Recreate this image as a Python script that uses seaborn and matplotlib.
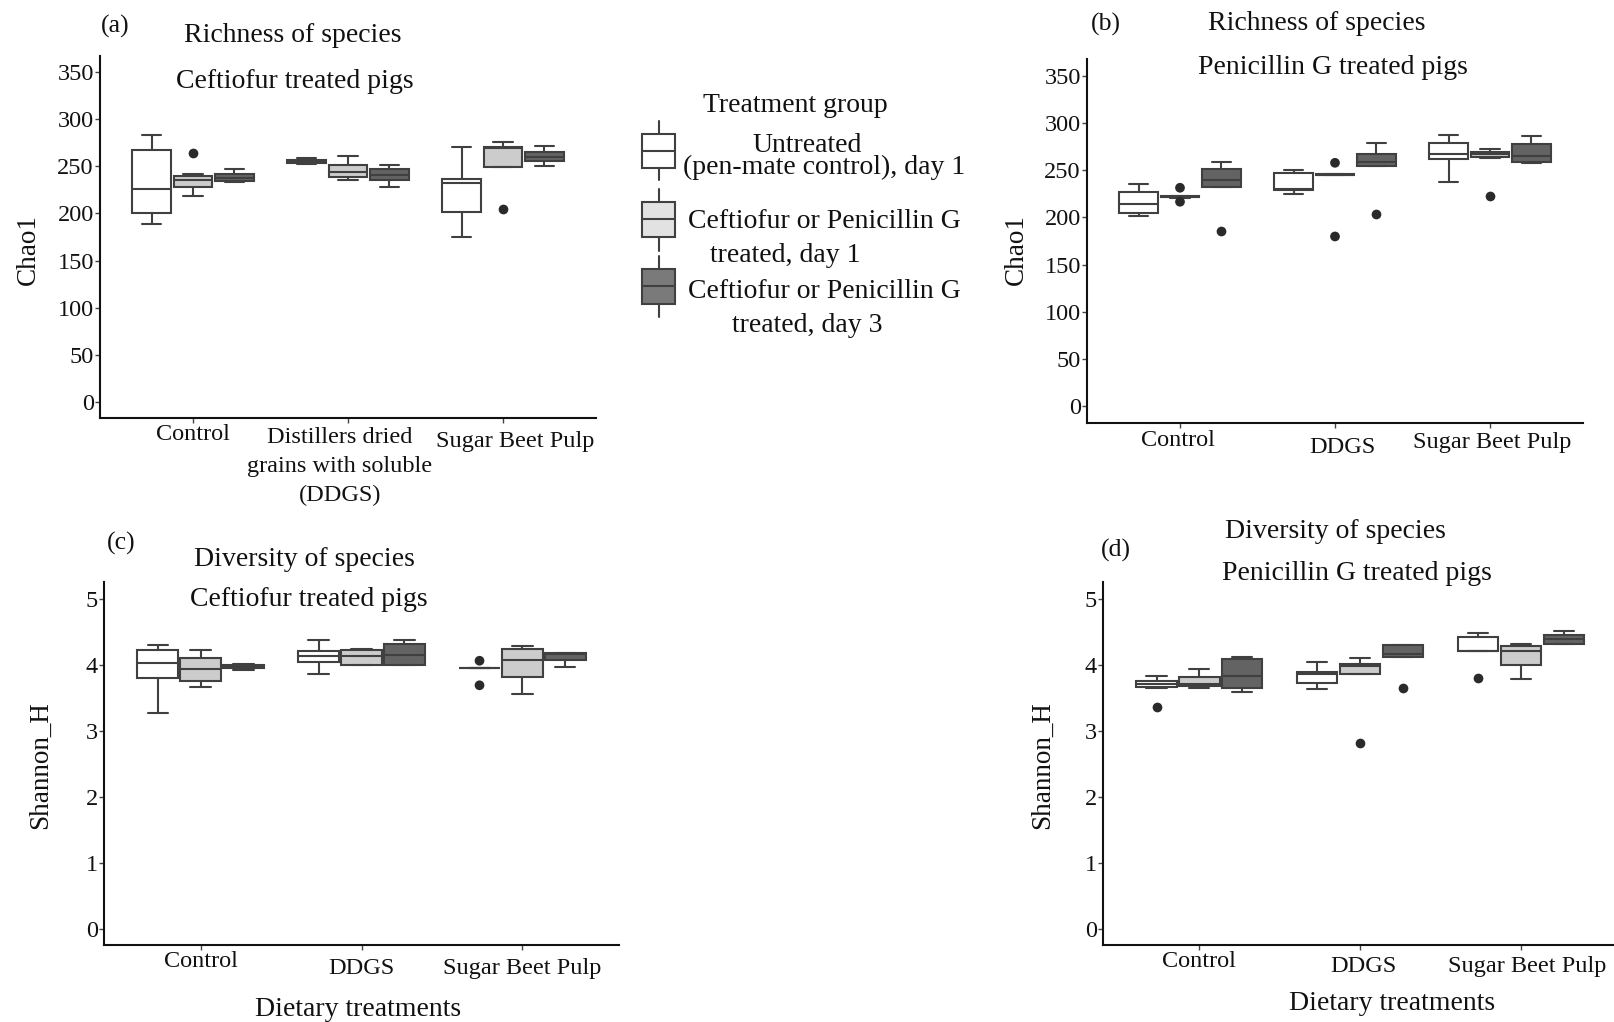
import numpy as np
import pandas as pd
import matplotlib
matplotlib.use("Agg")
import matplotlib.pyplot as plt
from matplotlib.patches import Rectangle
from matplotlib.lines import Line2D
from matplotlib.transforms import ScaledTranslation
import seaborn as sns

# ---------------------------------------------------------------- data
diets = ["Control", "DDGS", "Sugar Beet Pulp"]
groups = ["Untreated (pen-mate control), day 1",
          "Ceftiofur or Penicillin G treated, day 1",
          "Ceftiofur or Penicillin G treated, day 3"]

# five-number summaries per diet: [min, Q1, median, Q3, max]
ceft_chao1_untreated = [[189, 200, 226, 267.6, 283], [253, 253.5, 255, 257, 258.7], [175, 201.8, 232.9, 236.5, 270.4]]
ceft_chao1_day1 = [[218.5, 228.3, 235.4, 240.4, 242], [235.8, 238.9, 243.6, 251.3, 261.2], [249.2, 249.2, 269.3, 270.7, 276]]
ceft_chao1_day3 = [[233.6, 234.7, 238.2, 241.8, 247.8], [228.7, 235.1, 240.7, 246.8, 251.3], [250.3, 255.6, 260.1, 265.8, 271.8]]
ceft_chao1_out_diet = ["Control", "Sugar Beet Pulp"]
ceft_chao1_out_group = [1, 1]
ceft_chao1_out_value = [264.8, 204.7]

pen_chao1_untreated = [[201, 204.5, 214, 226.7, 235.2], [224.6, 229.1, 230.5, 247, 250], [237.9, 261.9, 267.2, 278.8, 287.6]]
pen_chao1_day1 = [[221, 221.3, 222, 222.7, 223], [244.5, 244.8, 245.3, 245.8, 246], [263, 264, 266.8, 269, 272.4]]
pen_chao1_day3 = [[232, 232, 239, 251, 258.4], [254.5, 254.5, 258.4, 267.5, 279.1], [257.3, 258.7, 265.1, 277.7, 286.5]]
pen_chao1_out_diet = ["Control", "Control", "Control", "DDGS", "DDGS", "DDGS", "Sugar Beet Pulp"]
pen_chao1_out_group = [1, 1, 2, 1, 1, 2, 1]
pen_chao1_out_value = [231.3, 216.5, 185.8, 257.7, 179.8, 204, 223]

ceft_shannon_untreated = [[3.265, 3.792, 4.021, 4.225, 4.297], [3.853, 4.037, 4.123, 4.205, 4.378], [3.94, 3.94, 3.945, 3.95, 3.95]]
ceft_shannon_day1 = [[3.654, 3.746, 3.934, 4.092, 4.214], [3.985, 4.0, 4.123, 4.225, 4.24], [3.547, 3.807, 4.061, 4.235, 4.282]]
ceft_shannon_day3 = [[3.919, 3.95, 3.98, 4.0, 4.015], [3.985, 4.0, 4.149, 4.317, 4.378], [3.96, 4.061, 4.165, 4.18, 4.18]]
ceft_shannon_out_diet = ["Sugar Beet Pulp", "Sugar Beet Pulp"]
ceft_shannon_out_group = [0, 0]
ceft_shannon_out_value = [4.057, 3.685]

pen_shannon_untreated = [[3.65, 3.657, 3.707, 3.753, 3.823], [3.636, 3.717, 3.85, 3.884, 4.035], [4.202, 4.202, 4.212, 4.414, 4.47]]
pen_shannon_day1 = [[3.646, 3.672, 3.707, 3.813, 3.934], [3.854, 3.854, 3.97, 4.005, 4.096], [3.783, 4.0, 4.197, 4.278, 4.313]]
pen_shannon_day3 = [[3.581, 3.641, 3.828, 4.076, 4.116], [4.121, 4.121, 4.16, 4.288, 4.298], [4.313, 4.313, 4.389, 4.45, 4.505]]
pen_shannon_out_diet = ["Control", "DDGS", "DDGS", "Sugar Beet Pulp"]
pen_shannon_out_group = [0, 1, 2, 0]
pen_shannon_out_value = [3.359, 2.813, 3.646, 3.788]

chao_ticks = [0, 50, 100, 150, 200, 250, 300, 350]
shannon_ticks = [0, 1, 2, 3, 4, 5]
ddgs_long_label = "Distillers dried\ngrains with soluble\n(DDGS)"

# ---------------------------------------------------------------- style
sns.set_style("ticks")
plt.rcParams["font.family"] = ["Liberation Serif", "DejaVu Serif"]
plt.rcParams["text.color"] = "#111111"

box_fills = ["#FFFFFF", "#CCCCCC", "#636363"]
key_fills = ["#FFFFFF", "#E2E2E2", "#7A7A7A"]
edge_col = "#404040"
W, H = 1614, 1022

fig = plt.figure(figsize=(W / 100, H / 100), dpi=100)


def px_axes(left, top, right, bottom):
    return fig.add_axes([left / W, 1 - bottom / H, (right - left) / W, (bottom - top) / H])


def long_frame(untreated, day1, day3):
    rows = []
    for g, summaries in zip(groups, [untreated, day1, day3]):
        for d, vals in zip(diets, summaries):
            for v in vals:
                rows.append({"diet": d, "group": g, "value": v})
    return pd.DataFrame(rows)


def outlier_frame(out_diet, out_group, out_value):
    return pd.DataFrame({"diet": out_diet,
                         "group": [groups[i] for i in out_group],
                         "value": out_value})


def panel(ax, boxes, outliers, yticks, ylim, xlim, xlabels, label_shift):
    sns.boxplot(data=boxes, x="diet", y="value", hue="group", order=diets,
                hue_order=groups, palette=dict(zip(groups, box_fills)),
                width=0.8, gap=0.06, whis=np.inf, showfliers=False,
                linewidth=1.5, linecolor=edge_col, saturation=1, dodge=True,
                legend=False, ax=ax)
    sns.stripplot(data=outliers, x="diet", y="value", hue="group", order=diets,
                  hue_order=groups, palette=dict(zip(groups, ["#2A2A2A"] * 3)),
                  dodge=True, jitter=False, size=7, linewidth=0, legend=False,
                  ax=ax, zorder=5)
    ax.set_ylim(*ylim)
    ax.set_xlim(*xlim)
    ax.set_yticks(yticks)
    ax.set_yticklabels([str(t) for t in yticks])
    ax.set_xticks(range(len(diets)))
    ax.set_xticklabels(xlabels, linespacing=1.5)
    ax.set_xlabel("")
    ax.set_ylabel("")
    for s in ["top", "right"]:
        ax.spines[s].set_visible(False)
    for s in ["left", "bottom"]:
        ax.spines[s].set_linewidth(1.5)
        ax.spines[s].set_color("#111111")
    ax.tick_params(axis="both", length=3.5, width=1, color="#444444",
                   labelsize=17.5, pad=1, labelcolor="#111111")
    # small per-label nudges of the category names (pixels: right, down)
    for lab, (dx, dy) in zip(ax.get_xticklabels(), label_shift):
        lab.set_transform(lab.get_transform()
                          + ScaledTranslation(dx / 100, -dy / 100, fig.dpi_scale_trans))


ax_a = px_axes(100, 56, 596, 418)
panel(ax_a,
      long_frame(ceft_chao1_untreated, ceft_chao1_day1, ceft_chao1_day3),
      outlier_frame(ceft_chao1_out_diet, ceft_chao1_out_group, ceft_chao1_out_value),
      chao_ticks, (-17.5, 367.5), (-0.6, 2.6),
      ["Control", ddgs_long_label, "Sugar Beet Pulp"],
      [(0, 0), (-8, 3), (12, 7)])

ax_b = px_axes(1087, 59, 1583, 423)
panel(ax_b,
      long_frame(pen_chao1_untreated, pen_chao1_day1, pen_chao1_day3),
      outlier_frame(pen_chao1_out_diet, pen_chao1_out_group, pen_chao1_out_value),
      chao_ticks, (-17.5, 367.5), (-0.6, 2.6), diets,
      [(-2, 1), (7, 8), (2, 3)])

ax_c = px_axes(104, 582, 619, 945)
panel(ax_c,
      long_frame(ceft_shannon_untreated, ceft_shannon_day1, ceft_shannon_day3),
      outlier_frame(ceft_shannon_out_diet, ceft_shannon_out_group, ceft_shannon_out_value),
      shannon_ticks, (-0.25, 5.25), (-0.6, 2.6), diets,
      [(0, 0), (0, 7), (0, 7)])

ax_d = px_axes(1103, 582, 1614, 945)
panel(ax_d,
      long_frame(pen_shannon_untreated, pen_shannon_day1, pen_shannon_day3),
      outlier_frame(pen_shannon_out_diet, pen_shannon_out_group, pen_shannon_out_value),
      shannon_ticks, (-0.25, 5.25), (-0.6, 2.58), diets,
      [(0, 0), (3, 5), (6, 5)])

# ---------------------------------------------------------------- annotations
ov = fig.add_axes([0, 0, 1, 1], zorder=10)
ov.set_xlim(0, W)
ov.set_ylim(H, 0)
ov.axis("off")


def label(x, y, s, size=20, **kw):
    ov.text(x, y + 3, s, fontsize=size, ha=kw.pop("ha", "center"),
            va=kw.pop("va", "center"), **kw)


label(115, 23, "(a)", 18.5)
label(293, 32, "Richness of species")
label(295, 79, "Ceftiofur treated pigs")
label(1106, 21, "(b)", 18.5)
label(1317, 21, "Richness of species")
label(1333, 65, "Penicillin G treated pigs")
label(121, 540, "(c)", 18.5)
label(304, 557, "Diversity of species")
label(309, 596, "Ceftiofur treated pigs")
label(1116, 547, "(d)", 18.5)
label(1335, 529, "Diversity of species")
label(1357, 570, "Penicillin G treated pigs")

label(28, 247, "Chao1", 19.5, rotation=90)
label(1016, 247, "Chao1", 19.5, rotation=90)
label(41, 762, "Shannon_H", 19.5, rotation=90)
label(1042, 762, "Shannon_H", 19.5, rotation=90)
label(358, 1006, "Dietary treatments")
label(1392, 1000, "Dietary treatments")

# legend
label(795, 103, "Treatment group")
key_boxes = [(134, 168, 121, 180), (202, 237, 189, 251), (269, 304, 256, 317)]
for fill, (top, bot, wtop, wbot) in zip(key_fills, key_boxes):
    ov.add_patch(Rectangle((642, top), 33, bot - top, facecolor=fill,
                           edgecolor=edge_col, linewidth=1.5))
    mid = (top + bot) / 2
    ov.add_line(Line2D([642, 675], [mid, mid], color=edge_col, linewidth=1.5))
    ov.add_line(Line2D([658.5, 658.5], [wtop, top], color=edge_col, linewidth=1.5))
    ov.add_line(Line2D([658.5, 658.5], [bot, wbot], color=edge_col, linewidth=1.5))

label(752, 143, "Untreated", ha="left")
label(683, 164, "(pen-mate control), day 1", ha="left")
label(688, 219, "Ceftiofur or Penicillin G", ha="left")
label(710, 253, "treated, day 1", ha="left")
label(688, 289, "Ceftiofur or Penicillin G", ha="left")
label(732, 322, "treated, day 3", ha="left")

fig.savefig("out.png", dpi=100)
